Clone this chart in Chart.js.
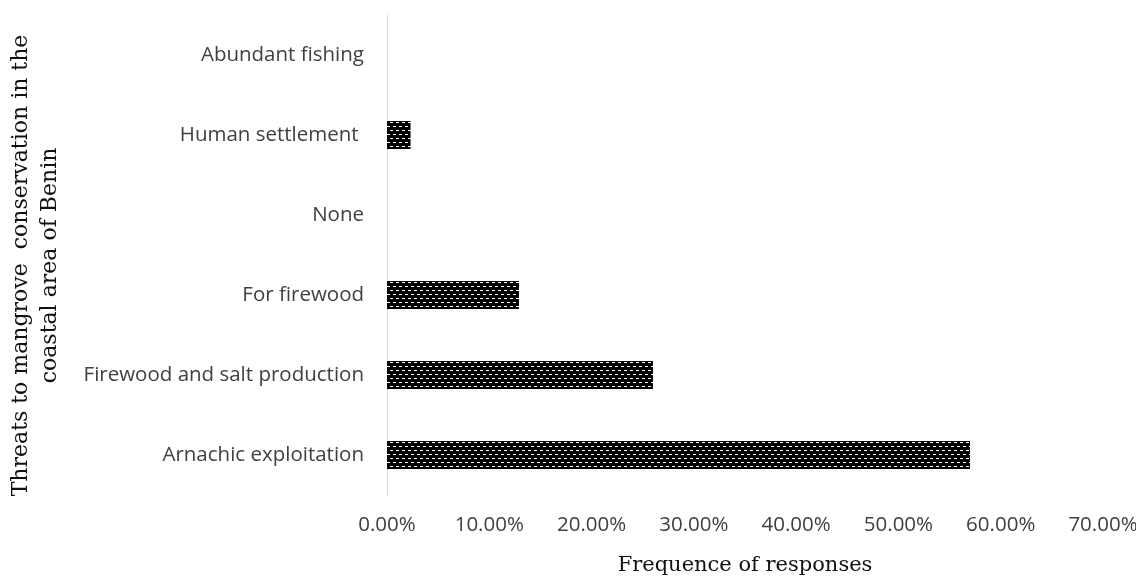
<!DOCTYPE html>
<html>
<head>
<meta charset="utf-8">
<script src="https://cdn.jsdelivr.net/npm/chart.js@4.4.1/dist/chart.umd.min.js"></script>
<style>
  html, body { margin: 0; padding: 0; background: #ffffff; }
  #wrap { width: 1136px; height: 583px; position: relative; }
</style>
</head>
<body>
<div id="wrap"><canvas id="chart" width="1136" height="583"></canvas></div>
<script>
// Threat categories, top to bottom
const categories = [
  'Abundant fishing',
  'Human settlement ',
  'None',
  'For firewood',
  'Firewood and salt production',
  'Arnachic exploitation'
];
// Share of responses (%)
const responseShare = [0, 2.3, 0, 12.9, 26.0, 57.0];
// Axis ticks (%)
const tickValues = [0, 10, 20, 30, 40, 50, 60, 70];

// trailing spaces nudge the rotated title slightly lower
const yTitleLines = ['Threats to mangrove  conservation in the   ', 'coastal area of Benin   '];
const xTitle = 'Frequence of responses';

// Black fill with small staggered white dashes
function makeDashPattern() {
  const tile = document.createElement('canvas');
  tile.width = 6;
  tile.height = 8;
  const t = tile.getContext('2d');
  t.fillStyle = '#000000';
  t.fillRect(0, 0, 6, 8);
  t.fillStyle = '#ffffff';
  t.fillRect(0, 2, 3, 1);
  t.fillRect(3, 6, 3, 1);
  const ctx = document.getElementById('chart').getContext('2d');
  return ctx.createPattern(tile, 'repeat');
}

const barFill = makeDashPattern();

new Chart(document.getElementById('chart'), {
  type: 'bar',
  data: {
    labels: categories,
    datasets: [{
      data: responseShare,
      backgroundColor: barFill,
      borderWidth: 0,
      barPercentage: 0.35,
      categoryPercentage: 1.0
    }]
  },
  options: {
    indexAxis: 'y',
    responsive: false,
    animation: false,
    layout: { padding: { top: 15, right: 33, left: 0, bottom: 0 } },
    plugins: {
      legend: { display: false },
      tooltip: { enabled: false }
    },
    scales: {
      x: {
        type: 'linear',
        min: 0,
        max: 70,
        afterBuildTicks: (scale) => { scale.ticks = tickValues.map(v => ({ value: v })); },
        afterFit: (scale) => {
          scale.height = 88;
          scale.paddingLeft = 0;
          scale.paddingRight = 0;
        },
        grid: { display: false, drawTicks: false },
        border: { display: false },
        ticks: {
          padding: 18,
          color: '#404040',
          font: { family: '"Open Sans"', size: 20.5 },
          callback: (v) => Number(v).toFixed(2) + '%'
        },
        title: {
          display: true,
          text: xTitle,
          color: '#111111',
          font: { family: '"DejaVu Serif"', size: 21 },
          padding: { top: 4, bottom: 5 }
        }
      },
      y: {
        afterFit: (scale) => {
          scale.width = 387;
          scale.paddingTop = 0;
          scale.paddingBottom = 0;
        },
        grid: { display: false, drawTicks: false },
        border: { display: true, color: '#d9d9d9', width: 1 },
        ticks: {
          padding: 23,
          color: '#404040',
          font: { family: '"Open Sans"', size: 20.5 }
        },
        title: {
          display: true,
          text: yTitleLines,
          color: '#111111',
          font: { family: '"DejaVu Serif"', size: 22, lineHeight: 1.35 },
          padding: { top: 6, bottom: 0 }
        }
      }
    }
  }
});
</script>
</body>
</html>
